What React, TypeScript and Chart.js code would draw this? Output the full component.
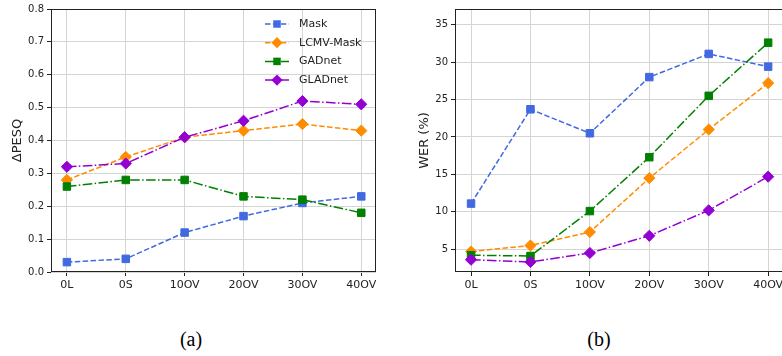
import React, { useEffect, useRef } from "react";
import { Chart, registerables } from "chart.js";

Chart.register(...registerables);

// ---------- data ----------
const categories = ["0L", "0S", "10OV", "20OV", "30OV", "40OV"];
const seriesNames = ["Mask", "LCMV-Mask", "GADnet", "GLADnet"];

const pesqMask = [0.03, 0.04, 0.12, 0.17, 0.21, 0.23];
const pesqLcmv = [0.28, 0.35, 0.41, 0.43, 0.45, 0.43];
const pesqGad = [0.26, 0.28, 0.28, 0.23, 0.22, 0.18];
const pesqGlad = [0.32, 0.33, 0.41, 0.46, 0.52, 0.51];

const werMask = [11.1, 23.7, 20.5, 28.0, 31.1, 29.4];
const werLcmv = [4.7, 5.5, 7.3, 14.5, 21.0, 27.2];
const werGad = [4.2, 4.1, 10.1, 17.3, 25.5, 32.6];
const werGlad = [3.6, 3.3, 4.5, 6.8, 10.2, 14.7];

const pesqTicks = [0, 0.1, 0.2, 0.3, 0.4, 0.5, 0.6, 0.7, 0.8];
const werTicks = [5, 10, 15, 20, 25, 30, 35];

// ---------- styles ----------
const COLORS = ["#4169e1", "#ff8c00", "#008000", "#9400d3"];
const DASHES = [[5.5, 2.4], [5.5, 2.4], [9.6, 2.4, 1.5, 2.4], [9.6, 2.4, 1.5, 2.4]];
const MARKERS = ["rect", "rect", "rect", "rect"].map((_, i) => (i % 2 === 0 ? "rect" : "rectRot"));
const RADII = [5.3, 5.6, 5.3, 5.6];
const FONT = "'DejaVu Sans', sans-serif";
const TEXT = "#222";
const GRID = "#d4d4d4";

function makeDatasets(series: number[][]) {
  return series.map((vals, i) => ({
    label: seriesNames[i],
    data: vals.map((v, j) => ({ x: j, y: v })),
    borderColor: COLORS[i],
    backgroundColor: COLORS[i],
    borderWidth: 1.5,
    borderDash: DASHES[i],
    pointStyle: MARKERS[i],
    pointRadius: RADII[i],
    pointBorderWidth: 1,
    pointBorderColor: COLORS[i],
    pointBackgroundColor: COLORS[i],
    order: 3 - i,
    tension: 0,
    fill: false,
  }));
}

const framePlugin = {
  id: "frame",
  afterDraw(chart: any) {
    const { ctx, chartArea: a } = chart;
    ctx.save();
    ctx.strokeStyle = "#222";
    ctx.lineWidth = 1;
    ctx.setLineDash([]);
    ctx.strokeRect(Math.round(a.left) + 0.5, Math.round(a.top) + 0.5, Math.round(a.right - a.left) - 1, Math.round(a.bottom - a.top) - 1);
    ctx.restore();
  },
};

function drawMarker(ctx: CanvasRenderingContext2D, style: string, x: number, y: number, r: number) {
  ctx.beginPath();
  if (style === "rect") {
    const s = r * Math.SQRT1_2;
    ctx.rect(x - s, y - s, 2 * s, 2 * s);
  } else {
    ctx.moveTo(x, y - r);
    ctx.lineTo(x + r, y);
    ctx.lineTo(x, y + r);
    ctx.lineTo(x - r, y);
    ctx.closePath();
  }
  ctx.fill();
}

const legendPlugin = {
  id: "innerLegend",
  afterDraw(chart: any) {
    const { ctx, chartArea: a } = chart;
    ctx.save();
    chart.data.datasets.forEach((ds: any, i: number) => {
      const y = a.top + 15 + i * 18.7;
      const x0 = a.right - 111;
      ctx.strokeStyle = COLORS[i];
      ctx.fillStyle = COLORS[i];
      ctx.lineWidth = 1.5;
      ctx.setLineDash(DASHES[i]);
      ctx.beginPath();
      ctx.moveTo(x0, y);
      ctx.lineTo(x0 + 24, y);
      ctx.stroke();
      ctx.setLineDash([]);
      drawMarker(ctx, MARKERS[i], x0 + 12, y, RADII[i]);
      ctx.fillStyle = TEXT;
      ctx.font = `11px ${FONT}`;
      ctx.textBaseline = "middle";
      ctx.textAlign = "left";
      ctx.fillText(ds.label, x0 + 34, y);
    });
    ctx.restore();
  },
};

function makeOptions(cfg: {
  yMin: number;
  yMax: number;
  yTicks: number[];
  yTitle: string;
  fmt: (v: number) => string;
  padLeft: number;
  padRight: number;
  padTop: number;
  yWidth: number;
  titlePad: number;
}) {
  return {
    animation: false,
    responsive: false,
    maintainAspectRatio: false,
    layout: { padding: { left: cfg.padLeft, right: cfg.padRight, top: cfg.padTop, bottom: 0 } },
    plugins: { legend: { display: false }, tooltip: { enabled: false } },
    scales: {
      x: {
        type: "linear",
        min: -0.27,
        max: 5.25,
        afterBuildTicks: (s: any) => {
          s.ticks = categories.map((_, i) => ({ value: i }));
        },
        afterFit: (s: any) => {
          s.height = 28;
        },
        ticks: {
          callback: (v: number) => categories[v] ?? "",
          font: { family: FONT, size: 11 },
          color: TEXT,
          padding: 3,
          maxRotation: 0,
          autoSkip: false,
        },
        grid: { color: GRID, lineWidth: 1, tickLength: 4, tickColor: "#222" },
        border: { display: false },
      },
      y: {
        type: "linear",
        min: cfg.yMin,
        max: cfg.yMax,
        afterBuildTicks: (s: any) => {
          s.ticks = cfg.yTicks.map((v) => ({ value: v }));
        },
        afterFit: (s: any) => {
          s.width = cfg.yWidth;
        },
        ticks: {
          callback: (v: number) => cfg.fmt(v),
          font: { family: FONT, size: 10 },
          color: TEXT,
          padding: 3,
        },
        grid: { color: GRID, lineWidth: 1, tickLength: 4, tickColor: "#222" },
        border: { display: false },
        title: {
          display: true,
          text: cfg.yTitle,
          font: { family: FONT, size: 13 },
          color: TEXT,
          padding: { top: cfg.titlePad, bottom: 0 },
        },
      },
    },
  };
}

function LineChart(props: { series: number[][]; options: any; legend: boolean; width: number; height: number }) {
  const ref = useRef<HTMLCanvasElement>(null);
  useEffect(() => {
    if (!ref.current) return;
    const chart = new Chart(ref.current, {
      type: "line",
      data: { datasets: makeDatasets(props.series) as any },
      options: props.options,
      plugins: props.legend ? [framePlugin, legendPlugin] : [framePlugin],
    } as any);
    return () => chart.destroy();
  }, []);
  return <canvas ref={ref} width={props.width} height={props.height} style={{ width: props.width, height: props.height, display: "block" }} />;
}

const pesqOptions = makeOptions({
  yMin: 0,
  yMax: 0.8,
  yTicks: pesqTicks,
  yTitle: "ΔPESQ",
  fmt: (v) => v.toFixed(1),
  padLeft: 0,
  padRight: 14,
  padTop: 9,
  yWidth: 51,
  titlePad: 10,
});

const werOptions = makeOptions({
  yMin: 1.96,
  yMax: 37.1,
  yTicks: werTicks,
  yTitle: "WER (%)",
  fmt: (v) => String(v),
  padLeft: 27,
  padRight: 7,
  padTop: 6,
  yWidth: 38,
  titlePad: 0,
});

const captionStyle: React.CSSProperties = {
  position: "absolute",
  top: 327,
  width: 80,
  textAlign: "center",
  fontFamily: "'Liberation Serif', 'Times New Roman', serif",
  fontSize: 20,
  lineHeight: "24px",
  color: "#000",
};

export default function App() {
  useEffect(() => {
    document.body.style.margin = "0";
  }, []);
  return (
    <div style={{ position: "relative", width: 782, height: 356, overflow: "hidden", background: "#fff" }}>
      <div style={{ position: "absolute", left: 0, top: 0 }}>
        <LineChart series={[pesqMask, pesqLcmv, pesqGad, pesqGlad]} options={pesqOptions} legend={true} width={390} height={300} />
      </div>
      <div style={{ position: "absolute", left: 390, top: 0 }}>
        <LineChart series={[werMask, werLcmv, werGad, werGlad]} options={werOptions} legend={false} width={400} height={300} />
      </div>
      <div style={{ ...captionStyle, left: 151 }}>(a)</div>
      <div style={{ ...captionStyle, left: 559 }}>(b)</div>
    </div>
  );
}
